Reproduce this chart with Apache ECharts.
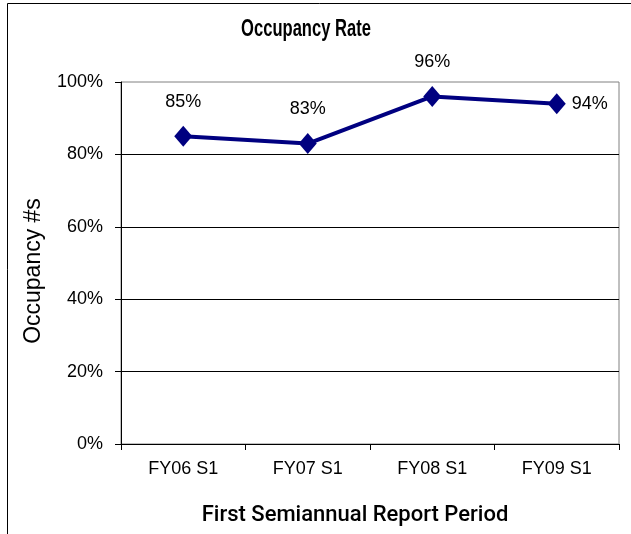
<!DOCTYPE html>
<html><head><meta charset="utf-8">
<script src="https://cdn.jsdelivr.net/npm/echarts@6/dist/echarts.min.js"></script>
<style>html,body{margin:0;padding:0;background:#fff}#c{width:631px;height:534px}</style>
</head><body><div id="c"></div>
<script>
const categories = ['FY06 S1', 'FY07 S1', 'FY08 S1', 'FY09 S1'];
const occupancy = [85, 83, 96, 94];
const labelPositions = ['top', 'top', 'top', 'right'];
const yTicks = { min: 0, max: 100, interval: 20 };

const chart = echarts.init(document.getElementById('c'), null, { renderer: 'canvas' });
const font = 'Liberation Sans, Arial, sans-serif';
chart.setOption({
  animation: false,
  backgroundColor: '#fff',
  graphic: [{
    type: 'rect', x: 7.5, y: 3.5, shape: { x: 0, y: 0, width: 700, height: 600 },
    style: { fill: 'none', stroke: '#000', lineWidth: 1 }, silent: true, z: -1
  }, {
    type: 'text', x: 306, y: 30, scaleX: 0.72, silent: true,
    style: { text: 'Occupancy Rate', align: 'center', verticalAlign: 'middle', textAlign: 'center', textVerticalAlign: 'middle',
             fontFamily: font, fontWeight: 'bold', fontSize: 23, fill: '#000' }
  }],
  grid: { left: 121, top: 82, right: 12, bottom: 90, show: true, borderColor: '#808080', borderWidth: 1,
          backgroundColor: 'transparent', outerBoundsMode: 'none', containLabel: false },
  xAxis: {
    type: 'category', data: categories, boundaryGap: true,
    name: 'First Semiannual Report Period', nameLocation: 'middle', nameGap: 60,
    nameTextStyle: { fontFamily: 'Roboto, Liberation Sans, sans-serif', fontWeight: 500, fontSize: 22, color: '#000', padding: [0, 30, 0, 0] },
    axisLine: { lineStyle: { color: '#000', width: 1 } },
    axisTick: { show: true, alignWithLabel: false, length: 6, lineStyle: { color: '#000' } },
    axisLabel: { color: '#000', fontFamily: font, fontSize: 18, margin: 16 },
    splitLine: { show: false }
  },
  yAxis: {
    type: 'value', min: yTicks.min, max: yTicks.max, interval: yTicks.interval,
    name: 'Occupancy #s', nameLocation: 'middle', nameGap: 76, nameRotate: 90,
    nameTextStyle: { fontFamily: font, fontSize: 23, color: '#000', padding: [0, 16, 0, 0] },
    axisLine: { show: true, lineStyle: { color: '#000', width: 1 } },
    axisTick: { show: true, length: 6, lineStyle: { color: '#000' } },
    axisLabel: { color: '#000', fontFamily: font, fontSize: 18, margin: 18, formatter: '{value}%' },
    splitLine: { show: true, showMaxLine: false, lineStyle: { color: '#000', width: 1 } }
  },
  series: [{
    type: 'line',
    data: occupancy.map((v, i) => ({ value: v, label: { position: labelPositions[i], distance: labelPositions[i] === 'right' ? 6 : 15 } })),
    symbol: 'diamond', symbolSize: [18, 21],
    lineStyle: { color: '#000080', width: 4 },
    itemStyle: { color: '#000080' },
    label: { show: true, formatter: '{c}%', fontFamily: font, fontSize: 18, color: '#000' }
  }]
});
</script></body></html>
